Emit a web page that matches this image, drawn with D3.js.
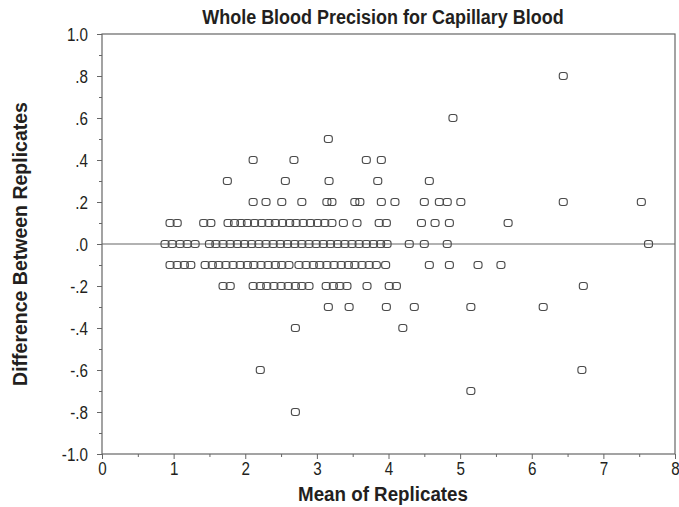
<!DOCTYPE html>
<html>
<head>
<meta charset="utf-8">
<script src="https://cdn.jsdelivr.net/npm/d3@7"></script>
<style>
  html, body { margin: 0; padding: 0; background: #fff; }
  svg text { font-family: "Liberation Sans", Arial, sans-serif; fill: #231f20; }
</style>
</head>
<body>
<svg id="chart" width="679" height="507"></svg>
<script>
// ---- data ----
const titleText = "Whole Blood Precision for Capillary Blood";
const xLabel = "Mean of Replicates";
const yLabel = "Difference Between Replicates";

const xTickValues = [0, 1, 2, 3, 4, 5, 6, 7, 8];
const xTickLabels = ["0", "1", "2", "3", "4", "5", "6", "7", "8"];
const yTickValues = [1.0, 0.8, 0.6, 0.4, 0.2, 0.0, -0.2, -0.4, -0.6, -0.8, -1.0];
const yTickLabels = ["1.0", ".8", ".6", ".4", ".2", ".0", "-.2", "-.4", "-.6", "-.8", "-1.0"];

// means of replicates, grouped by difference between replicates
const meansDiffP08 = [6.44];
const meansDiffP06 = [4.90];
const meansDiffP05 = [3.16];
const meansDiffP04 = [2.11, 2.68, 3.69, 3.90];
const meansDiffP03 = [1.75, 2.56, 3.17, 3.85, 4.57];
const meansDiffP02 = [2.11, 2.29, 2.51, 2.79, 3.14, 3.21, 3.53, 3.60, 3.90, 4.09, 4.50, 4.71, 4.82, 5.01, 6.44, 7.53];
const meansDiffP01 = [0.95, 1.05, 1.42, 1.52, 1.76, 1.85, 1.94, 2.03, 2.13, 2.23, 2.33, 2.42, 2.52, 2.62, 2.71, 2.81, 2.91, 3.01, 3.11, 3.21, 3.37, 3.56, 3.87, 3.97, 4.46, 4.65, 4.85, 5.67];
const meansDiff00  = [0.88, 0.98, 1.09, 1.19, 1.30, 1.50, 1.59, 1.69, 1.79, 1.89, 1.99, 2.09, 2.19, 2.29, 2.39, 2.49, 2.59, 2.69, 2.79, 2.89, 2.99, 3.09, 3.19, 3.29, 3.39, 3.49, 3.59, 3.69, 3.79, 3.89, 3.98, 4.29, 4.50, 4.82, 7.63];
const meansDiffN01 = [0.95, 1.05, 1.15, 1.24, 1.44, 1.54, 1.63, 1.73, 1.83, 1.93, 2.03, 2.12, 2.22, 2.32, 2.42, 2.51, 2.61, 2.75, 2.85, 2.95, 3.04, 3.14, 3.24, 3.34, 3.44, 3.53, 3.63, 3.73, 3.83, 3.96, 4.57, 4.85, 5.25, 5.57];
const meansDiffN02 = [1.69, 1.79, 2.11, 2.21, 2.30, 2.40, 2.50, 2.60, 2.70, 2.79, 2.89, 3.13, 3.23, 3.32, 3.42, 3.70, 4.01, 4.11, 6.72];
const meansDiffN03 = [3.16, 3.45, 3.97, 4.36, 5.15, 6.16];
const meansDiffN04 = [2.70, 4.20];
const meansDiffN06 = [2.21, 6.70];
const meansDiffN07 = [5.15];
const meansDiffN08 = [2.70];

const diffLevels = [0.8, 0.6, 0.5, 0.4, 0.3, 0.2, 0.1, 0.0, -0.1, -0.2, -0.3, -0.4, -0.6, -0.7, -0.8];
const meansByLevel = [meansDiffP08, meansDiffP06, meansDiffP05, meansDiffP04, meansDiffP03, meansDiffP02, meansDiffP01,
                      meansDiff00, meansDiffN01, meansDiffN02, meansDiffN03, meansDiffN04, meansDiffN06, meansDiffN07, meansDiffN08];

const points = [];
diffLevels.forEach((d, i) => meansByLevel[i].forEach(m => points.push({ mean: m, diff: d })));

// ---- layout ----
const svg = d3.select("#chart");
const plotL = 102, plotR = 675, plotT = 34, plotB = 454;
const x = d3.scaleLinear().domain([0, 8]).range([plotL, plotR]);
const y = d3.scaleLinear().domain([-1, 1]).range([plotB, plotT]);
const lineColor = "#666";
const tickScaleX = 0.8;   // condensed look for tick labels
const tickFont = 19;

// minor ticks
const xMinor = [0.5, 1.5, 2.5, 3.5, 4.5, 5.5, 6.5, 7.5];
const yMinor = [0.9, 0.7, 0.5, 0.3, 0.1, -0.1, -0.3, -0.5, -0.7, -0.9];
svg.append("g").attr("transform", `translate(0,${plotB})`)
  .call(d3.axisBottom(x).tickValues(xMinor).tickSize(3).tickFormat(""))
  .call(g => g.select(".domain").remove())
  .selectAll("line").attr("stroke", lineColor);
svg.append("g").attr("transform", `translate(${plotL},0)`)
  .call(d3.axisLeft(y).tickValues(yMinor).tickSize(3).tickFormat(""))
  .call(g => g.select(".domain").remove())
  .selectAll("line").attr("stroke", lineColor);

// major axes
const xAxis = svg.append("g").attr("transform", `translate(0,${plotB})`)
  .call(d3.axisBottom(x).tickValues(xTickValues).tickSize(5).tickPadding(3)
        .tickFormat((d, i) => xTickLabels[i]));
xAxis.select(".domain").remove();
xAxis.selectAll("line").attr("stroke", lineColor);
xAxis.selectAll("text").attr("font-size", tickFont).attr("font-family", null)
  .attr("transform", `scale(${tickScaleX},1)`);

const yAxis = svg.append("g").attr("transform", `translate(${plotL},0)`)
  .call(d3.axisLeft(y).tickValues(yTickValues).tickSize(5).tickPadding(9)
        .tickFormat((d, i) => yTickLabels[i]));
yAxis.select(".domain").remove();
yAxis.selectAll("line").attr("stroke", lineColor);
yAxis.selectAll("text").attr("font-size", tickFont).attr("font-family", null)
  .attr("x", -14 / tickScaleX)
  .attr("transform", `scale(${tickScaleX},1)`);

// frame
svg.append("rect")
  .attr("x", plotL).attr("y", plotT)
  .attr("width", plotR - plotL).attr("height", plotB - plotT)
  .attr("fill", "none").attr("stroke", lineColor).attr("stroke-width", 1.2);

// zero line
svg.append("line")
  .attr("x1", x(0)).attr("x2", x(8)).attr("y1", y(0)).attr("y2", y(0))
  .attr("stroke", lineColor).attr("stroke-width", 1.2);

// points
const mw = 8, mh = 7;
svg.append("g").selectAll("rect").data(points).join("rect")
  .attr("x", d => x(d.mean) - mw / 2)
  .attr("y", d => y(d.diff) - mh / 2)
  .attr("width", mw).attr("height", mh)
  .attr("rx", 2.5).attr("ry", 2.5)
  .attr("fill", "none")
  .attr("stroke", "#4a4a4a").attr("stroke-width", 1.1);

// titles, condensed to the reference widths
function condensedText(str, size, targetWidth, placement) {
  const t = svg.append("text").attr("text-anchor", "middle")
    .attr("font-size", size).attr("font-weight", "bold").text(str);
  const w = t.node().getComputedTextLength();
  const s = Math.min(1, targetWidth / w);
  t.attr("transform", `${placement} scale(${s},1)`);
  return t;
}
condensedText(titleText, 20.5, 362, "translate(383,24)");
condensedText(xLabel, 20.5, 170, "translate(383,501)");
condensedText(yLabel, 20.5, 284, `translate(27,${(plotT + plotB) / 2}) rotate(-90)`);
</script>
</body>
</html>
